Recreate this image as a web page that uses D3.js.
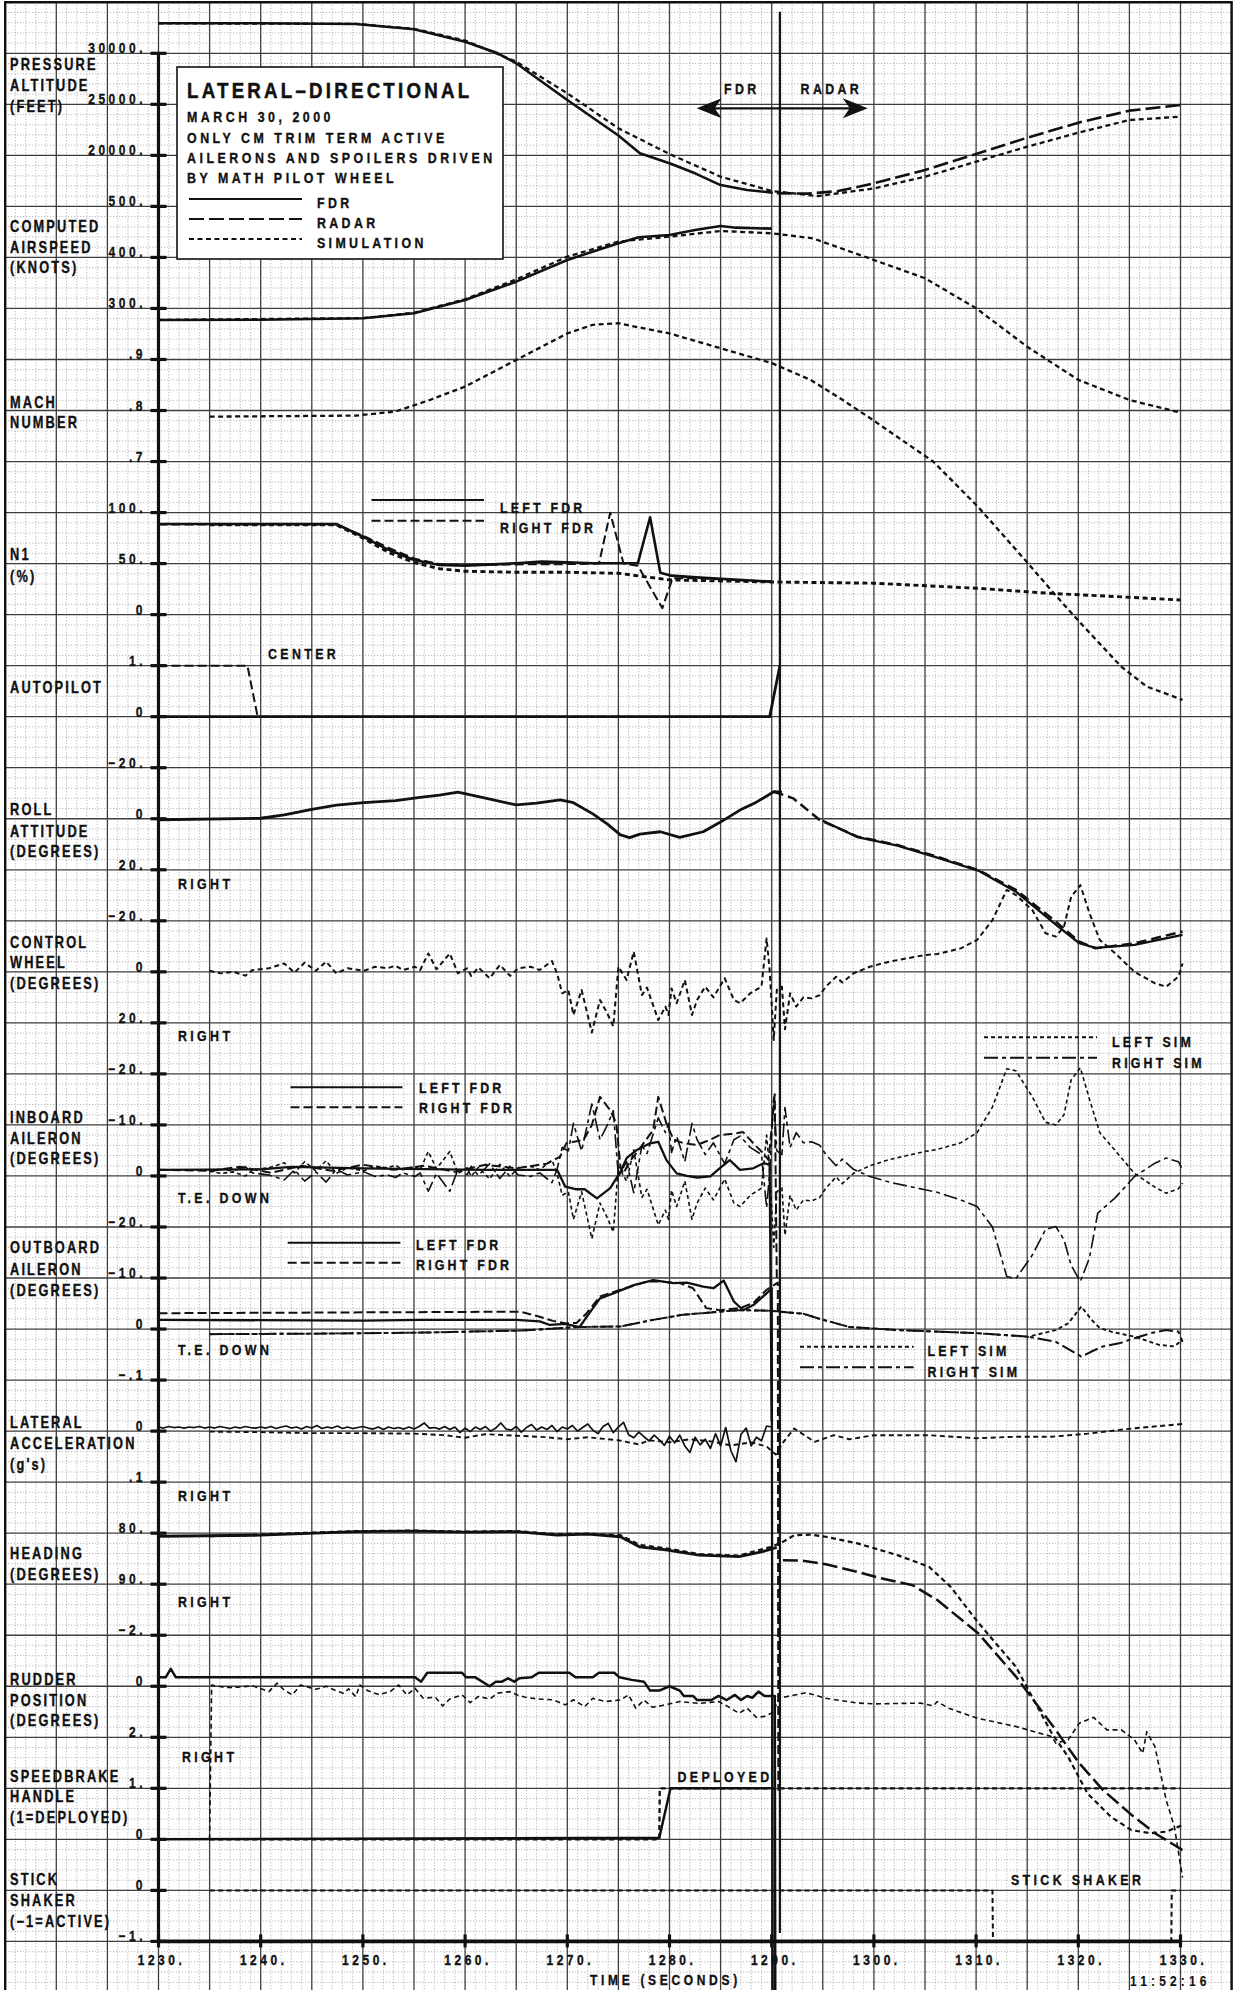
<!DOCTYPE html>
<html><head><meta charset="utf-8">
<script src="https://cdn.jsdelivr.net/npm/d3@7"></script>
<style>
html,body{margin:0;padding:0;background:#fff;}
svg{display:block;}
text{font-family:"Liberation Sans",Arial,Helvetica,sans-serif;font-weight:bold;fill:#111;stroke:#111;stroke-width:0.35px;}
</style></head><body>
<svg id="chart" width="1237" height="1990"></svg>
<script>
// ---------- time axis ----------
const timeTicks = [1230,1240,1250,1260,1270,1280,1290,1300,1310,1320,1330];
const timeTickLabels = ["1230.","1240.","1250.","1260.","1270.","1280.","1290.","1300.","1310.","1320.","1330."];

// ---------- series (time s, value) ----------
const altFdr = [[1230,32940],[1240,32940],[1249.3,32870],[1255,32350],[1260,31140],[1263.2,30000],[1265,29020],[1270,25420],[1275,21950],[1277.1,20200],[1280,19220],[1282.5,18240],[1285,17090],[1287.6,16610],[1290.1,16340]];
const altSim = [[1230,32940],[1249.3,32880],[1255,32400],[1260,31250],[1265,29180],[1270,26080],[1275,22650],[1280,20130],[1285,17910],[1290,16510],[1294.5,16010],[1300,16760],[1305,17910],[1310,19380],[1315,20850],[1320,22220],[1325,23460],[1330,23790]];
const altRadar = [[1290.5,16300],[1293.5,16250],[1296.5,16500],[1300,17260],[1305,18560],[1310,20130],[1315,21730],[1320,23200],[1325,24380],[1330,24930]];

const casFdr = [[1230,277.5],[1240,278],[1250,280.8],[1255,290.6],[1260,316.7],[1265,352.5],[1270,395],[1275,427.7],[1277,439.5],[1280,444],[1282.5,453.8],[1285,461.6],[1286.5,458.3],[1290,456.4]];
const casSim = [[1230,277.5],[1250,281],[1255,291.5],[1260,318],[1265,357],[1270,401.5],[1275,431],[1280,440.7],[1285,451.8],[1290,447.3],[1294,437.5],[1300,395],[1305,359.2],[1310,300.4],[1315,225],[1320,160],[1325,120.7],[1330,95.8]];

const machSim = [[1235,0.788],[1249.3,0.79],[1253.2,0.798],[1256.6,0.821],[1260,0.847],[1265,0.899],[1270,0.951],[1272.5,0.968],[1275,0.971],[1277.5,0.961],[1280,0.951],[1285,0.922],[1290,0.893],[1293.8,0.86],[1297,0.82],[1300,0.78],[1305.8,0.70],[1310.2,0.611],[1315.1,0.50],[1317.6,0.442],[1320.1,0.386],[1324.2,0.298],[1326.7,0.259],[1330.2,0.233]];

const n1Left = [[1230,88.8],[1247.4,88.8],[1250,76.4],[1252.4,64],[1255,53.6],[1257.5,48.7],[1260,48],[1265,50.3],[1267.5,51.9],[1270,51.3],[1272.5,50.3],[1276.9,50.3],[1278.1,95.4],[1279.1,41.1],[1280.2,38.2],[1283,36.3],[1290,32.3]];
const n1Right = [[1230,88.2],[1247.4,88.2],[1250,77.5],[1252.4,66],[1255,55],[1257.5,49.5],[1260,48.6],[1265,49.2],[1270,49.5],[1273.1,50],[1274.2,99.9],[1275.5,50],[1276.9,48],[1279.3,6.3],[1280.3,35.7],[1283,35.5],[1290,32.3]];
const n1Sim = [[1235,88],[1247.4,88],[1250,75],[1252.5,61],[1255,51],[1257.5,45],[1260,42.5],[1265,41.5],[1270,41.5],[1275,40.5],[1280,34],[1290,32],[1300,30.8],[1310,25.9],[1317,21],[1325,17],[1330,14.3]];

const apCenter = [[1230,1],[1238.7,1],[1239.7,0],[1290,0]];
const apLeft = [[1230,0],[1289.8,0],[1290.8,1]];

const rollFdr = [[1230,0.4],[1240,-0.2],[1242.3,-1.5],[1245,-3.7],[1247.4,-5.3],[1250.1,-6.3],[1253.2,-7.1],[1255.6,-8.4],[1257.5,-9.3],[1259.3,-10.4],[1262.1,-8],[1265,-5.4],[1267,-6.1],[1269.3,-7.4],[1270.6,-6.3],[1272.5,-1.9],[1273.9,2],[1275.2,6.3],[1276.1,7.4],[1277.1,6],[1279.1,5.1],[1281,7.3],[1283.3,5.1],[1284.9,1.5],[1286.9,-3.4],[1288.5,-6.5],[1290.2,-10.6],[1291,-10.4]];
const rollSim = [[1290.2,-10.6],[1292.1,-8],[1294.7,0.5],[1298.4,7],[1302.3,10.3],[1306.2,14.9],[1310.2,20.1],[1313.9,27.9],[1317.8,40.3],[1320.1,48.2],[1321.7,50.8],[1325.5,48.8],[1330.2,44.2]];
const rollTrace = [[1295,0.8],[1298.4,7.2],[1302.3,10.5],[1306.2,15.2],[1310.2,20.3],[1313.9,28.6],[1317.8,41.5],[1320.1,48.8],[1321.7,50.6],[1325.5,49.4],[1330.2,45.5]];

const cwSim = [[1235,-0.4],[1236.1,0.6],[1237.3,0],[1238.5,1.5],[1239.2,-0.7],[1240.8,-1.4],[1241.6,-2.4],[1242.3,-3.3],[1243.3,0.3],[1244.3,-3.6],[1245.4,-0.4],[1246.4,-4],[1247.4,0.6],[1248.5,-1.4],[1250.1,-0.4],[1251.2,-2],[1252.4,-1.4],[1253.2,-2.4],[1253.9,-0.7],[1255.1,-2],[1255.6,-0.7],[1256.4,-7.2],[1257.2,-1],[1258.5,-7.2],[1259.3,0.6],[1260.2,-1.4],[1260.6,1.6],[1261.3,-1.7],[1262.4,2.5],[1263.4,-2.7],[1264.4,1.6],[1265.2,-1.4],[1266.4,-2],[1267.3,-0.7],[1268.5,-4.2],[1269,0.6],[1269.5,8.4],[1270.1,7.1],[1270.6,16.9],[1271.4,7.1],[1272.4,23.8],[1273.2,11],[1273.9,16.2],[1274.5,21.4],[1275,-2],[1275.8,3.2],[1276.5,-7.9],[1277.3,9.1],[1277.8,6.2],[1278.9,18.9],[1279.6,13.6],[1279.9,16.9],[1280.2,6.5],[1280.7,12.3],[1281.5,3.2],[1282.2,16.9],[1282.7,11],[1283.5,5.8],[1284.3,10],[1285.4,2.5],[1286.3,11],[1286.9,12.3],[1287.9,8.4],[1289,5.8],[1289.5,-13.1],[1289.8,-0.7],[1290.2,26.7],[1290.5,7.1],[1291,5.8],[1291.3,22.5],[1291.8,8.4],[1292.4,13.6],[1293.1,10],[1293.9,10.4],[1294.7,9.1],[1295.3,5.8],[1296.3,1.9],[1296.9,4.2],[1298,0.6],[1299.6,-2],[1301.5,-4],[1305,-6.6],[1306.2,-7],[1308.5,-9.2],[1310.1,-12.5],[1311.6,-20.3],[1313,-32.1],[1313.9,-30.1],[1315.5,-24.2],[1316.8,-15.1],[1317.8,-13.8],[1318.6,-17.7],[1319.3,-29.4],[1320.2,-34],[1321.1,-22.9],[1322.1,-12.5],[1323.6,-7.3],[1325.5,0],[1327.5,4.5],[1328.6,5.8],[1329.8,1.9],[1330.2,-3.3]];

const ibLeftFdr = [[1230,-1.2],[1240,-1.3],[1243,-1.8],[1250,-1.5],[1262,-1.2],[1269,-1.2],[1269.8,2.1],[1270.8,2.6],[1271.7,2.6],[1272.9,4.4],[1274.2,2.4],[1275.2,-0.8],[1275.8,-3.5],[1276.8,-5.1],[1278.1,-6.4],[1278.9,-6.7],[1279.7,-3.1],[1280.7,-0.5],[1281.7,0],[1282.7,0.3],[1284,0.1],[1284.9,-1.5],[1285.9,-3.1],[1286.9,-1.2],[1288.2,-1.5],[1289.2,-2.5],[1289.8,-2.2],[1290,48]];
const ibRightFdr = [[1230,-1.2],[1235,-1],[1238,-1.8],[1241,-0.6],[1244,-2],[1247,-1],[1250,-2.2],[1253,-1.2],[1256,-2],[1259,-0.8],[1262,-2.2],[1265,-1.5],[1268,-2.4],[1269.3,-3.8],[1269.9,-6.4],[1271.6,-7.1],[1272.4,-10],[1273.2,-15.5],[1274.2,-12.9],[1274.8,-10.3],[1275.2,-1.8],[1275.5,-0.5],[1276.1,-2.8],[1277.1,-5.4],[1278.4,-9],[1278.9,-15.5],[1279.7,-10.3],[1280.4,-7.1],[1281.4,-6.4],[1282.7,-6.1],[1284,-7.1],[1284.9,-8],[1286.3,-8.3],[1287.2,-8.6],[1288.2,-6.4],[1289.2,-4.4],[1289.7,-3.1],[1290.3,-16],[1290.5,20]];
const ibLeftSim = [[1235,-1],[1236.1,-0.5],[1237.3,-0.8],[1238.5,0],[1239.2,-1.2],[1240.8,-1.6],[1241.6,-2.1],[1242.3,-2.6],[1243.3,-0.6],[1244.3,-2.8],[1245.4,-1],[1246.4,-3],[1247.4,-0.5],[1248.5,-1.6],[1250.1,-1],[1251.2,-1.9],[1252.4,-1.6],[1253.2,-2.1],[1253.9,-1.2],[1255.1,-1.9],[1255.6,-1.2],[1256.4,-4.8],[1257.2,-1.4],[1258.5,-4.8],[1259.3,-0.5],[1260.2,-1.6],[1260.6,0.1],[1261.3,-1.7],[1262.4,0.6],[1263.4,-2.3],[1264.4,0.1],[1265.2,-1.6],[1266.4,-1.9],[1267.3,-1.2],[1268.5,-3.1],[1269,-0.5],[1269.5,3.8],[1270.1,3.1],[1270.6,8.5],[1271.4,3.1],[1272.4,12.3],[1273.2,5.3],[1273.9,8.1],[1274.5,11],[1275,-1.9],[1275.8,1],[1276.5,-5.1],[1277.3,4.2],[1277.8,2.6],[1278.9,9.6],[1279.6,6.7],[1279.9,8.5],[1280.2,2.8],[1280.7,6],[1281.5,1],[1282.2,8.5],[1282.7,5.3],[1283.5,2.4],[1284.3,4.7],[1285.4,0.6],[1286.3,5.3],[1286.9,6],[1287.9,3.8],[1289,2.4],[1289.5,-8],[1289.8,-1.2],[1290.2,14],[1290.5,3.1],[1291,2.4],[1291.3,11.6],[1291.8,3.8],[1292.4,6.7],[1293.1,4.7],[1293.9,4.9],[1294.7,4.2],[1295.3,2.4],[1296.3,0.2],[1296.9,1.5],[1298,-0.5],[1299.6,-2],[1301.5,-3.2],[1305,-4.8],[1306.2,-5.2],[1308.5,-6.5],[1310.1,-8.5],[1311.6,-13.5],[1313,-21],[1313.9,-20.6],[1315.5,-15.5],[1316.8,-10.5],[1317.8,-10],[1318.6,-12],[1319.3,-18.8],[1320.2,-21.2],[1321.1,-15],[1322.1,-8.5],[1323.6,-5],[1325.5,-0.5],[1327.5,2.2],[1328.6,3.4],[1329.8,2.5],[1330.2,1.4]];
const ibRightSim = [[1235,-0.8],[1236.1,-1.3],[1237.3,-1],[1238.5,-1.8],[1239.2,-0.6],[1240.8,-0.2],[1241.6,0.3],[1242.3,0.8],[1243.3,-1.2],[1244.3,1],[1245.4,-0.8],[1246.4,1.2],[1247.4,-1.3],[1248.5,-0.2],[1250.1,-0.8],[1251.2,0.1],[1252.4,-0.2],[1253.2,0.3],[1253.9,-0.6],[1255.1,0.1],[1255.6,-0.6],[1256.4,3],[1257.2,-0.5],[1258.5,3],[1259.3,-1.3],[1260.2,-0.2],[1260.6,-1.9],[1261.3,-0.1],[1262.4,-2.4],[1263.4,0.5],[1264.4,-1.9],[1265.2,-0.2],[1266.4,0.1],[1267.3,-0.6],[1268.5,1.3],[1269,-1.3],[1269.5,-5.6],[1270.1,-4.9],[1270.6,-10.3],[1271.4,-4.9],[1272.4,-14.1],[1273.2,-7.1],[1273.9,-9.9],[1274.5,-12.8],[1275,0.1],[1275.8,-2.8],[1276.5,3.3],[1277.3,-6],[1277.8,-4.4],[1278.9,-11.4],[1279.6,-8.5],[1279.9,-10.3],[1280.2,-4.6],[1280.7,-7.8],[1281.5,-2.8],[1282.2,-10.3],[1282.7,-7.1],[1283.5,-4.2],[1284.3,-6.5],[1285.4,-2.4],[1286.3,-7.1],[1286.9,-7.8],[1287.9,-5.6],[1289,-4.2],[1289.5,6.2],[1289.8,-0.6],[1290.2,-15.7],[1290.5,-4.9],[1291,-4.2],[1291.3,-13.4],[1291.8,-5.6],[1292.4,-8.5],[1293.1,-6.5],[1293.9,-6.7],[1294.7,-6],[1295.3,-4.2],[1296.3,-2],[1296.9,-3.3],[1298,-1.3],[1299.6,0.1],[1301.5,1.2],[1305,2.7],[1306.2,3.2],[1308.5,4.7],[1310.1,6],[1311.6,10],[1313,19.7],[1313.9,20.1],[1315.5,15.5],[1316.8,10.5],[1317.8,9.9],[1318.6,12.5],[1319.3,17.5],[1320.2,20.7],[1321.1,16],[1321.9,7.3],[1323.6,4.3],[1325.5,0.1],[1327.5,-2.5],[1328.6,-3.5],[1329.8,-2.8],[1330.2,-1.2]];

const obLeftFdr = [[1230,-1.8],[1250.1,-1.65],[1255.6,-1.8],[1265,-1.8],[1267.3,-1.5],[1268.3,-0.8],[1269.8,-1],[1271.2,-0.4],[1271.9,-2.4],[1273.2,-6],[1274.5,-7],[1276.5,-8.6],[1278.4,-9.6],[1280.4,-9],[1281.7,-9.1],[1283.3,-8.3],[1284.3,-8],[1285.3,-9.5],[1286.3,-5.4],[1287.2,-3.7],[1288.2,-4.7],[1289.5,-7],[1290,-8],[1290.1,130]];
const obRightFdr = [[1230,-3.1],[1265.4,-3.4],[1267.3,-2.4],[1268.6,-1.6],[1269.9,-1.1],[1270.9,-1.2],[1271.9,-3.1],[1273.2,-6.4],[1275.2,-7.7],[1277.8,-9.3],[1279.1,-9.3],[1281,-9],[1282.3,-8],[1283.6,-4.1],[1284.9,-3.7],[1286.9,-4.1],[1288.2,-5.1],[1289.5,-7.7],[1290.6,-9.1],[1290.65,90.5]];
const obLeftSim = [[1235,1],[1245,0.9],[1255.6,0.7],[1265.4,0.3],[1271.2,-0.4],[1275.2,-0.5],[1278.4,-1.8],[1281.3,-2.8],[1286.7,-3.7],[1289.8,-3.6],[1293.1,-3],[1294.7,-2],[1297.6,-0.4],[1302.3,0.2],[1310,0.8],[1315.1,1.5],[1317.8,0.2],[1319,-1.1],[1320.3,-4.4],[1321.3,-1.8],[1322.1,-0.2],[1323.2,0.5],[1325.5,1.5],[1327.9,3.1],[1329.4,3.4],[1330.2,2.1]];
const obRightSim = [[1235,1],[1245,0.9],[1255.6,0.7],[1265.4,0.3],[1271.2,-0.4],[1275.2,-0.5],[1278.4,-1.8],[1281.3,-2.8],[1286.7,-3.7],[1289.8,-3.6],[1293.1,-3],[1294.7,-2],[1297.6,-0.4],[1302.3,0.2],[1310,0.8],[1315.1,1.5],[1317.8,2.5],[1320.3,5.4],[1321.3,4.4],[1322.4,3.4],[1324,2.8],[1325.5,1.8],[1327.1,0.8],[1328.6,0.2],[1329.8,0.5],[1330.2,2.5]];

// lateral acceleration FDR, sampled every 0.5 s from 1230 s
const latFdrStart = 1230, latFdrStep = 0.5;
const latFdrValues = [-0.008,-0.006,-0.009,-0.007,-0.008,-0.006,-0.008,-0.007,-0.009,-0.006,-0.008,-0.006,-0.009,-0.007,-0.005,-0.008,-0.006,-0.009,-0.007,-0.006,-0.008,
 -0.006,-0.009,-0.005,-0.008,-0.010,-0.006,-0.008,-0.004,-0.009,-0.006,-0.011,-0.005,-0.008,-0.006,-0.010,-0.005,-0.008,-0.005,-0.007,-0.009,
 -0.006,-0.004,-0.008,-0.003,-0.008,-0.005,-0.007,-0.004,-0.008,-0.004,-0.009,-0.016,-0.006,-0.007,-0.004,-0.009,-0.003,-0.008,0.003,-0.006,
 0.001,-0.008,-0.003,-0.009,0.000,-0.006,-0.016,-0.004,-0.002,-0.009,0.002,-0.007,-0.013,-0.002,-0.008,-0.003,-0.011,0.001,-0.008,-0.004,
 -0.011,0.000,-0.007,-0.014,-0.002,0.005,-0.009,-0.015,0.003,-0.008,-0.017,0.007,0.013,0.002,0.011,0.019,0.008,0.017,0.028,0.010,
 0.023,0.008,0.029,0.042,0.012,0.027,0.016,0.034,0.005,0.029,-0.007,0.038,0.060,0.006,-0.006,0.029,0.012,0.019,-0.010,-0.008];
const latSim = [[1235,0.001],[1240,0.002],[1245,0.004],[1250,0.004],[1255,0.005],[1258,0.008],[1260,0.013],[1262,0.006],[1265,0.009],[1268,0.012],[1270,0.016],[1272,0.012],[1275,0.018],[1277,0.026],[1278,0.018],[1280,0.022],[1282,0.016],[1284,0.02],[1286,0.028],[1288,0.022],[1289.5,0.03],[1290.4,0.046],[1291.2,0.02],[1292.2,-0.005],[1294.2,0.021],[1296.1,0.008],[1297.6,0.016],[1300,0.008],[1305.4,0.008],[1310,0.014],[1313.9,0.011],[1317.4,0.011],[1320.9,0.005],[1325.2,-0.005],[1330.2,-0.014]];

const hdgFdr = [[1230,80.6],[1240,80.4],[1249.3,79.7],[1255,79.6],[1260,79.8],[1265,79.7],[1269,80.4],[1272,80.2],[1275.2,80.7],[1277.1,82.7],[1279.8,83.3],[1282.9,84.3],[1286.8,84.6],[1289.1,83.6],[1290.5,82.8]];
const hdgSim = [[1235,80.6],[1249.3,79.6],[1255,79.5],[1260,79.7],[1265,79.6],[1269,80.2],[1272,80.1],[1275.2,80.4],[1277.1,82.3],[1279.8,83],[1282.9,84.1],[1286.8,84.4],[1289.9,82.7],[1291.1,81.7],[1292.2,80.4],[1293.8,80.3],[1295.3,80.7],[1298.4,82],[1302.3,84.3],[1305.4,86.6],[1307.5,90.5],[1310.2,97.5],[1313.9,106.2],[1317.4,119.2],[1319,123.8],[1320.9,131],[1323.2,135.6],[1325.2,138.2],[1327.1,138.8],[1328.6,138.5],[1330.2,137.2]];
const hdgRadar = [[1291.1,85.3],[1293,85.4],[1295.3,86.1],[1298.4,87.6],[1300.4,88.7],[1303.8,90.2],[1306.2,93.1],[1310.2,99.6],[1313.9,108.1],[1317.8,118.6],[1320.1,125.1],[1322.4,130.3],[1325.2,135.2],[1327.5,138.8],[1330.2,142.1]];

const rudFdr = [[1230,-0.35],[1230.7,-0.35],[1231.2,-0.68],[1231.7,-0.35],[1255.1,-0.35],[1255.7,-0.18],[1256.3,-0.53],[1259.7,-0.53],[1260.1,-0.35],[1261,-0.35],[1262.4,0],[1263,-0.18],[1263.6,-0.18],[1264.2,-0.31],[1264.8,-0.18],[1265.3,-0.31],[1266.5,-0.35],[1267.2,-0.53],[1270.2,-0.53],[1270.8,-0.35],[1272.5,-0.35],[1273.1,-0.53],[1274.6,-0.53],[1275.1,-0.35],[1276.3,-0.25],[1277.5,-0.18],[1278.1,0.17],[1279,0.17],[1280,0],[1281,0.17],[1281.4,0.38],[1282.3,0.38],[1282.7,0.54],[1284.1,0.54],[1284.8,0.38],[1285.6,0.54],[1286.4,0.34],[1287,0.54],[1287.6,0.38],[1288.1,0.45],[1288.7,0.21],[1289.3,0.38],[1290.3,0.38],[1290.35,12.5]];
const rudSim = [[1235,6],[1235.2,-0.05],[1236.5,0.05],[1237.7,0.04],[1239.2,-0.02],[1240.8,0.21],[1241.6,-0.12],[1242.3,0.15],[1243.1,0.34],[1243.9,-0.05],[1245.4,0.12],[1246.4,0],[1247.4,0.18],[1248.1,0.27],[1248.6,0.1],[1249.3,0.41],[1249.7,-0.05],[1250.5,0.18],[1251.6,0.33],[1252.7,0.2],[1253.5,-0.05],[1254.3,0.34],[1255.1,0.08],[1255.9,0.47],[1257.1,0.43],[1257.8,0.77],[1258.5,0.5],[1259.7,0.34],[1260.5,0.64],[1261.3,0.4],[1262.4,0.5],[1263.2,0.27],[1264.4,0.21],[1265.1,0.34],[1265.9,0.43],[1267.1,0.5],[1268.6,0.53],[1269.8,0.73],[1270.6,0.53],[1271.7,0.8],[1272.5,0.47],[1273.7,0.6],[1275.2,0.54],[1276,0.34],[1276.7,0.86],[1277.5,0.54],[1278.3,0.82],[1279.1,0.77],[1281,0.6],[1282.9,0.67],[1284.8,0.6],[1285.6,0.77],[1286.8,1.06],[1287.6,0.86],[1288.5,1.22],[1289.3,1.18],[1290.1,1.03],[1290.7,0.47],[1291.4,0.41],[1293.4,0.25],[1295.3,0.47],[1298.4,0.66],[1300,0.69],[1304.6,0.66],[1305.8,0.77],[1306.2,0.6],[1307.3,0.86],[1310.1,1.25],[1313.9,1.58],[1317.4,1.97],[1317.8,2.23],[1319,2.1],[1320.1,1.45],[1321.5,1.22],[1322.8,1.71],[1324.2,1.71],[1325.5,2.1],[1326.3,2.63],[1326.7,1.78],[1327.5,2.37],[1328.6,4.46],[1329.4,5.5],[1330.2,7.5]];

const sbFdr = [[1230,0],[1279,0.03],[1280.1,1],[1290.3,1]];
const sbSim = [[1235,0],[1279,0],[1279.05,1],[1330,1]];
const ssSim = [[1235,0],[1311.6,0],[1311.65,-1],[1329.1,-1],[1329.15,0],[1330,0]];

// ---------- panel definitions: grid rows, value range, tick labels ----------
const panelNames = ["alt","cas","mach","n1","ap","roll","cw","inb","outb","lat","hdg","rud","sb","ss"];
const panelRows = [[0,2],[3,5],[6,8],[9,11],[12,13],[14,16],[17,19],[20,22],[23,25],[26,28],[29,30],[31,33],[34,35],[36,37]];
const panelRanges = [[30000,20000],[500,300],[0.9,0.7],[100,0],[1,0],[-20,20],[-20,20],[-20,0],[-20,0],[-0.1,0.1],[80,90],[-2,2],[1,0],[0,-1]];
const panelTickLabels = [["30000.","25000.","20000."],["500.","400.","300."],[".9",".8",".7"],["100.","50.","0"],["1.","0"],["\u221220.","0","20."],["\u221220.","0","20."],["\u221220.","\u221210.","0"],["\u221220.","\u221210.","0"],["\u2212.1","0",".1"],["80.","90."],["\u22122.","0","2."],["1.","0"],["0","\u22121."]];
const panelTitles = [["PRESSURE","ALTITUDE","(FEET)"],["COMPUTED","AIRSPEED","(KNOTS)"],["MACH","NUMBER"],["N1","(%)"],["AUTOPILOT"],["ROLL","ATTITUDE","(DEGREES)"],["CONTROL","WHEEL","(DEGREES)"],["INBOARD","AILERON","(DEGREES)"],["OUTBOARD","AILERON","(DEGREES)"],["LATERAL","ACCELERATION","(g's)"],["HEADING","(DEGREES)"],["RUDDER","POSITION","(DEGREES)"],["SPEEDBRAKE","HANDLE","(1=DEPLOYED)"],["STICK","SHAKER","(\u22121=ACTIVE)"]];
const panelTitleBaselines = [[70,90.5,111.5],[232.3,252.5,273.3],[407.5,428.3],[560,581.7],[692.7],[815,836.7,857.3],[948.3,968.3,989.3],[1123.3,1144,1164],[1253.3,1275,1296],[1428.3,1449.3,1470],[1559.3,1580],[1685,1706,1726],[1781.7,1801.7,1822.7],[1885,1906,1926.7]];

// ---------- layout ----------
const W = 1237, H = 1990;
const ROW0 = 53.3, ROWH = 51.03;
const row = k => ROW0 + ROWH * k;
const x = d3.scaleLinear().domain([1230, 1330]).range([158.5, 1180.5]);
const T0 = 1215, T1 = 1335;   // extent of the ruled grid (s)

const svg = d3.select("#chart");
const INK = "#111";

const P = {};
panelNames.forEach((n, i) => {
  P[n] = d3.scaleLinear().domain(panelRanges[i]).range([row(panelRows[i][0]), row(panelRows[i][1])]);
});

function txt(g, xp, yp, s, o = {}) {
  const size = o.size || 15.5, ls = (o.ls !== undefined) ? o.ls : 4, sx = (o.sx !== undefined) ? o.sx : 0.8;
  const t = g.append("text")
    .attr("transform", `translate(${xp},${yp}) scale(${sx},1)`)
    .attr("font-size", size)
    .attr("letter-spacing", ls)
    .attr("text-anchor", o.anchor || "start")
    .attr("font-weight", o.weight || "bold")
    .text(s);
  if (o.weight === "normal") t.style("stroke-width", "0.1px");
  return t;
}

// ---------- grid ----------
const grid = svg.append("g");
const yTop = row(-1), yBot = H + 5;
const xL = x(T0), xR = x(T1);
// minor dotted rulings (1 s and 1/5 row)
for (let t = T0; t <= T1; t++) {
  if (t % 5 === 0) continue;
  grid.append("line").attr("x1", x(t)).attr("x2", x(t)).attr("y1", yTop).attr("y2", yBot)
    .attr("stroke", "#a0a0a0").attr("stroke-width", 0.9).attr("stroke-dasharray", "1,2");
}
for (let k = -1; k <= 38; k++) {
  for (let j = 1; j < 5; j++) {
    const yy = row(k) + j * ROWH / 5;
    if (yy > H) continue;
    grid.append("line").attr("x1", xL).attr("x2", xR).attr("y1", yy).attr("y2", yy)
      .attr("stroke", "#a0a0a0").attr("stroke-width", 0.9).attr("stroke-dasharray", "1,2");
  }
}
// major rulings every 5 s and every row
for (let t = T0; t <= T1; t += 5) {
  grid.append("line").attr("x1", x(t)).attr("x2", x(t)).attr("y1", yTop).attr("y2", yBot)
    .attr("stroke", "#3e3e3e").attr("stroke-width", 1.3);
}
for (let k = -1; k <= 38; k++) {
  grid.append("line").attr("x1", xL).attr("x2", xR).attr("y1", row(k)).attr("y2", row(k))
    .attr("stroke", "#3e3e3e").attr("stroke-width", 1.3);
}
// frame
grid.append("path").attr("d", `M${xL},${yBot}V${yTop}H${xR}V${yBot}`)
  .attr("fill", "none").attr("stroke", INK).attr("stroke-width", 2.4);

// ---------- title box ----------
const box = svg.append("g");
box.append("rect").attr("x", 177).attr("y", 67).attr("width", 326).attr("height", 192)
  .attr("fill", "#fff").attr("stroke", INK).attr("stroke-width", 1.6);
txt(box, 187, 97.5, "LATERAL\u2013DIRECTIONAL", { size: 22, ls: 3.8, sx: 0.85 }).style("stroke-width", "0.5px");
txt(box, 187, 122.3, "MARCH 30, 2000", { ls: 4.4 });
txt(box, 187, 142.7, "ONLY CM TRIM TERM ACTIVE", { ls: 4.4 });
txt(box, 187, 162.7, "AILERONS AND SPOILERS DRIVEN", { ls: 4.4 });
txt(box, 187, 182.7, "BY MATH PILOT WHEEL", { ls: 4.4 });
const mainKey = [["FDR", null], ["RADAR", "15,5"], ["SIMULATION", "5,3.5"]];
mainKey.forEach((d, i) => {
  const yy = 199 + i * 20;
  box.append("line").attr("x1", 189).attr("x2", 302).attr("y1", yy).attr("y2", yy)
    .attr("stroke", INK).attr("stroke-width", 2.2).attr("stroke-dasharray", d[1]);
  txt(box, 317, yy + 9, d[0], { ls: 4.2 });
});

// ---------- axes ----------
const axes = svg.append("g");
axes.append("line").attr("x1", x(1230)).attr("x2", x(1230)).attr("y1", row(0)).attr("y2", row(37))
  .attr("stroke", INK).attr("stroke-width", 3.2);
panelNames.forEach((n, i) => {
  const ticks = panelTickLabels[i];
  const [k0] = panelRows[i];
  ticks.forEach((lab, j) => {
    const yy = row(k0 + j);
    axes.append("line").attr("x1", x(1230) - 8).attr("x2", x(1230) + 8).attr("y1", yy).attr("y2", yy)
      .attr("stroke", INK).attr("stroke-width", 3.2);
    txt(axes, 146, yy, lab, { size: 15, ls: 4.4, anchor: "end" });
  });
  panelTitles[i].forEach((s, j) => txt(axes, 10, panelTitleBaselines[i][j], s, { size: 16, ls: 2.7 }));
});
// time axis
axes.append("line").attr("x1", x(1230)).attr("x2", x(1330)).attr("y1", row(37)).attr("y2", row(37))
  .attr("stroke", INK).attr("stroke-width", 3.6);
timeTicks.forEach((t, i) => {
  axes.append("line").attr("x1", x(t)).attr("x2", x(t)).attr("y1", row(37) - 7).attr("y2", row(37) + 6)
    .attr("stroke", INK).attr("stroke-width", 3.2);
  txt(axes, x(t) + 3, 1965, timeTickLabels[i], { size: 15, ls: 4.4, anchor: "middle" });
});
txt(axes, 590, 1985, "TIME (SECONDS)", { size: 15, ls: 4.6 });
txt(axes, 1130, 1986, "11:52:16", { size: 15, ls: 5.2, weight: "normal" });

// ---------- annotations ----------
const ann = svg.append("g");
[["RIGHT", 889.3], ["RIGHT", 1040.7], ["T.E. DOWN", 1203], ["T.E. DOWN", 1355], ["RIGHT", 1501], ["RIGHT", 1606.5]]
  .forEach(d => txt(ann, 178, d[1], d[0], { ls: 4.2 }));
txt(ann, 182, 1761.7, "RIGHT", { ls: 4.2 });
txt(ann, 268, 659.3, "CENTER", { ls: 4.2 });
txt(ann, 677.5, 1781.7, "DEPLOYED", { ls: 4.2 });
txt(ann, 1011, 1885, "STICK SHAKER", { ls: 4.2 });
txt(ann, 724, 94, "FDR", { ls: 4.2 });
txt(ann, 800.6, 94, "RADAR", { ls: 4.2 });
// FDR / RADAR double arrow
const arrowY = 108.3, aL = x(1282.66), aR = x(1299.4);
ann.append("line").attr("x1", aL + 10).attr("x2", aR - 10).attr("y1", arrowY).attr("y2", arrowY)
  .attr("stroke", INK).attr("stroke-width", 2.2);
ann.append("path").attr("d", `M${aL},${arrowY}L${aL + 25},${arrowY - 10}L${aL + 18},${arrowY}L${aL + 25},${arrowY + 10}Z`).attr("fill", INK);
ann.append("path").attr("d", `M${aR},${arrowY}L${aR - 25},${arrowY - 10}L${aR - 18},${arrowY}L${aR - 25},${arrowY + 10}Z`).attr("fill", INK);
// time cursor
ann.append("line").attr("x1", x(1290.8)).attr("x2", x(1290.8)).attr("y1", 11.7).attr("y2", 1933)
  .attr("stroke", INK).attr("stroke-width", 2.2);

// small legends
function keyPair(x1, x2, y1, y2, d1, d2, l1, l2, tx, tyOff) {
  ann.append("line").attr("x1", x1).attr("x2", x2).attr("y1", y1).attr("y2", y1).attr("stroke", INK).attr("stroke-width", 2).attr("stroke-dasharray", d1);
  ann.append("line").attr("x1", x1).attr("x2", x2).attr("y1", y2).attr("y2", y2).attr("stroke", INK).attr("stroke-width", 2).attr("stroke-dasharray", d2);
  txt(ann, tx, y1 + tyOff, l1, { ls: 4 });
  txt(ann, tx, y2 + tyOff, l2, { ls: 4 });
}
keyPair(371.5, 484, 500, 520.7, null, "9,4", "LEFT FDR", "RIGHT FDR", 500, 12.5);
keyPair(290.5, 402.4, 1087.3, 1107.3, null, "9,4", "LEFT FDR", "RIGHT FDR", 419, 6);
keyPair(287.7, 400.4, 1242.7, 1262.7, null, "9,4", "LEFT FDR", "RIGHT FDR", 416, 7.3);
keyPair(984, 1097, 1037.3, 1057.7, "4,3", "14,4,4,4", "LEFT SIM", "RIGHT SIM", 1112, 10);
keyPair(800, 913.6, 1346.7, 1367.3, "4,3", "14,4,4,4", "LEFT SIM", "RIGHT SIM", 927.5, 9.3);

// ---------- data traces ----------
svg.append("clipPath").attr("id", "plotclip").append("rect")
  .attr("x", xL).attr("y", yTop).attr("width", xR - xL).attr("height", H - yTop + 5);
const traces = svg.append("g").attr("clip-path", "url(#plotclip)");
const SOLID = null, RADAR = "15,5", SIM = "5,3.5", RFDR = "9,4", LSIM = "4,3", RSIM = "14,4,4,4";
function trace(data, panel, dash, w) {
  const y = P[panel];
  traces.append("path").datum(data)
    .attr("d", d3.line().x(d => x(d[0])).y(d => y(d[1])))
    .attr("fill", "none").attr("stroke", INK).attr("stroke-width", w || 2)
    .attr("stroke-linejoin", "round").attr("stroke-dasharray", dash);
}
const latFdr = latFdrValues.map((v, i) => [latFdrStart + i * latFdrStep, v]);

trace(altFdr, "alt", SOLID, 2.6); trace(altSim, "alt", SIM, 2.3); trace(altRadar, "alt", RADAR, 2.6);
trace(casFdr, "cas", SOLID, 2.6); trace(casSim, "cas", SIM, 2.3);
trace(machSim, "mach", SIM, 2.3);
trace(n1Left, "n1", SOLID, 2.6); trace(n1Right, "n1", RFDR, 2); trace(n1Sim, "n1", SIM, 2.9);
trace(apCenter, "ap", RFDR, 2); trace(apLeft, "ap", SOLID, 2.8);
trace(rollFdr, "roll", SOLID, 2.8); trace(rollTrace, "roll", SOLID, 2.3); trace(rollSim, "roll", "10,5", 2.5);
trace(cwSim, "cw", SIM, 2);
trace(ibLeftSim, "inb", LSIM, 1.6); trace(ibRightSim, "inb", RSIM, 1.6);
trace(ibLeftFdr, "inb", SOLID, 2.3); trace(ibRightFdr, "inb", RFDR, 2);
trace(obLeftSim, "outb", LSIM, 1.9); trace(obRightSim, "outb", RSIM, 2);
trace(obLeftFdr, "outb", SOLID, 2.3); trace(obRightFdr, "outb", RFDR, 2);
trace(latSim, "lat", SIM, 1.9); trace(latFdr, "lat", SOLID, 1.7);
trace(hdgFdr, "hdg", SOLID, 2.8); trace(hdgSim, "hdg", SIM, 2.2); trace(hdgRadar, "hdg", RADAR, 2.5);
trace(rudSim, "rud", SIM, 1.6); trace(rudFdr, "rud", SOLID, 2.5);
trace(sbSim, "sb", SIM, 2.3); trace(sbFdr, "sb", SOLID, 2.5);
trace(ssSim, "ss", SIM, 2);
</script></body></html>
